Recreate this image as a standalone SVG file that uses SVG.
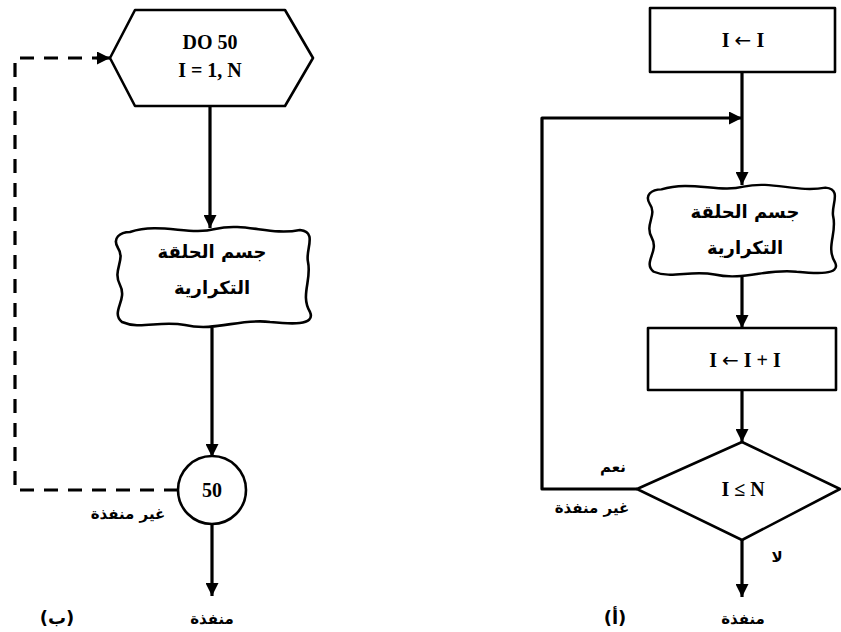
<svg xmlns="http://www.w3.org/2000/svg" width="841" height="632" viewBox="0 0 841 632">
<style>
.ln{fill:none;stroke:#000;stroke-width:3.2;stroke-linejoin:round}
.shape{fill:#fff;stroke:#000;stroke-width:2.6;stroke-linejoin:round}
.dash{fill:none;stroke:#000;stroke-width:3.2;stroke-dasharray:14 10}
.lat{font-family:"Liberation Serif","Times New Roman",serif;font-weight:bold;font-size:20px;fill:#000}
.arw{font-family:"DejaVu Sans",sans-serif;font-weight:normal}
.ar{font-family:"DejaVu Sans","Noto Sans",sans-serif;font-weight:bold;font-size:18px;fill:#000}
.arS{font-family:"DejaVu Sans","Noto Sans",sans-serif;font-weight:bold;font-size:15px;fill:#000}
</style>
<defs>
<marker id="ah" markerWidth="13" markerHeight="13" viewBox="0 0 13 13" refX="13" refY="6.5" orient="auto" markerUnits="userSpaceOnUse">
<path d="M0,0 L13,6.5 L0,13 Z" fill="#000"/>
</marker>
<path id="cloud" d="M 15 7 C 45 -3, 75 11, 100 4 C 130 -3, 155 11, 185 5 C 203 7, 190 25, 193 37 C 197 55, 185 70, 195 87 C 201 101, 175 99, 155 97 C 125 93, 100 107, 70 100 C 45 95, 25 105, 7 97 C -5 87, 13 75, 5 60 C -3 45, 11 35, 3 23 C -3 13, 5 7, 15 7 Z"/>
</defs>
<rect width="841" height="632" fill="#fff"/>

<g id="connectors">
<line class="ln" x1="210" y1="107" x2="210" y2="228" marker-end="url(#ah)"/>
<line class="ln" x1="212" y1="328" x2="212" y2="457" marker-end="url(#ah)"/>
<line class="ln" x1="212" y1="524" x2="212" y2="596" marker-end="url(#ah)"/>
<polyline class="dash" points="178,490 15,490 15,58 96,58"/>
<line class="ln" x1="96" y1="58" x2="110" y2="58" marker-end="url(#ah)"/>
<line class="ln" x1="742" y1="72" x2="742" y2="185" marker-end="url(#ah)"/>
<polyline class="ln" points="637,489 542,489 542,118 742,118" marker-end="url(#ah)"/>
<line class="ln" x1="742" y1="277" x2="742" y2="328" marker-end="url(#ah)"/>
<line class="ln" x1="742" y1="390" x2="742" y2="442" marker-end="url(#ah)"/>
<line class="ln" x1="742" y1="540" x2="742" y2="597" marker-end="url(#ah)"/>
</g>

<g id="do-hex">
<polygon class="shape" points="110,58 135,10 285,10 313,58 285,106 135,106"/>
<text class="lat" x="210" y="49" text-anchor="middle">DO 50</text>
<text class="lat" x="210" y="77" text-anchor="middle">I = 1, N</text>
</g>

<g id="body-left">
<use href="#cloud" class="shape" transform="translate(115,225)"/>
<text class="ar" x="212" y="258" text-anchor="middle" direction="rtl">جسم الحلقة</text>
<text class="ar" x="212" y="294" text-anchor="middle" direction="rtl">التكرارية</text>
</g>

<g id="circle50">
<circle class="shape" cx="212" cy="490" r="34"/>
<text class="lat" x="212" y="497" text-anchor="middle">50</text>
</g>

<g id="labels-left">
<text class="arS" x="128" y="519" text-anchor="middle" direction="rtl">غير منفذة</text>
<text class="arS" x="212" y="624" text-anchor="middle" direction="rtl">منفذة</text>
<text class="ar" x="57" y="624" text-anchor="middle" direction="rtl">(ب)</text>
</g>

<g id="init-rect">
<rect class="shape" x="650" y="8" width="185" height="64"/>
<text class="lat" x="743" y="47" text-anchor="middle">I <tspan class="arw">←</tspan> I</text>
</g>

<g id="body-right">
<use href="#cloud" class="shape" transform="translate(647,183) scale(0.965,0.915)"/>
<text class="ar" x="745" y="218" text-anchor="middle" direction="rtl">جسم الحلقة</text>
<text class="ar" x="745" y="254" text-anchor="middle" direction="rtl">التكرارية</text>
</g>

<g id="inc-rect">
<rect class="shape" x="648" y="328" width="188" height="62"/>
<text class="lat" x="745" y="367" text-anchor="middle">I <tspan class="arw">←</tspan> I + I</text>
</g>

<g id="decision">
<polygon class="shape" points="637,489 742,442 840,489 742,540"/>
<text class="lat" x="743" y="496" text-anchor="middle">I ≤ N</text>
</g>

<g id="labels-right">
<text class="arS" x="613" y="472" text-anchor="middle" direction="rtl">نعم</text>
<text class="arS" x="592" y="513" text-anchor="middle" direction="rtl">غير منفذة</text>
<text class="arS" x="777" y="562" text-anchor="middle" direction="rtl">لا</text>
<text class="arS" x="743" y="624" text-anchor="middle" direction="rtl">منفذة</text>
<text class="ar" x="615" y="624" text-anchor="middle" direction="rtl">(أ)</text>
</g>
</svg>
